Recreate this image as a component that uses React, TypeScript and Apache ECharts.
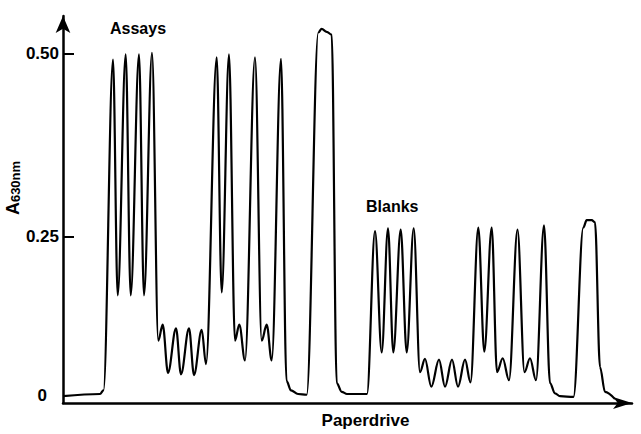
import React, { useEffect, useRef } from 'react';
import * as echarts from 'echarts';

// Paper-drive position (arbitrary chart units) and recorded absorbance at 630 nm
const drive = [
  0, 37, 40.5, 50, 54.7, 62.7, 67.7, 76, 81, 89,
  95.3, 99.7, 105, 113, 118, 126, 131, 138.7, 143,
  153.7, 158.7, 166, 172, 176.3, 182, 192, 198.7, 203.7, 208.7, 218,
  223.5, 228, 235, 243.7, 255.3, 258.7, 263.7, 268.7, 273.7, 278.7, 284, 304,
  312, 318.7, 325, 330.3, 337.7, 343.7, 350.7,
  357, 362, 368.3, 376, 382, 389, 395, 402, 407.5,
  415.3, 421.3, 428.7, 434, 439.7, 446, 454.5, 461.5, 467, 473, 481,
  487, 492, 497, 510.5, 520.3, 523.7, 528.7, 532, 537, 542, 552,
];
const absorbance = [
  0.031, 0.034, 0.039, 0.492, 0.169, 0.499, 0.169, 0.499, 0.169, 0.501,
  0.107, 0.129, 0.063, 0.124, 0.061, 0.124, 0.060, 0.122, 0.075,
  0.495, 0.173, 0.499, 0.107, 0.129, 0.080, 0.495, 0.107, 0.129, 0.080, 0.493,
  0.052, 0.039, 0.034, 0.033, 0.529, 0.534, 0.530, 0.526, 0.049, 0.037, 0.034, 0.034,
  0.257, 0.091, 0.261, 0.091, 0.259, 0.091, 0.261,
  0.064, 0.082, 0.044, 0.081, 0.044, 0.081, 0.044, 0.081, 0.050,
  0.262, 0.092, 0.262, 0.064, 0.083, 0.053, 0.259, 0.064, 0.083, 0.053, 0.265,
  0.049, 0.035, 0.031, 0.030, 0.262, 0.272, 0.272, 0.269, 0.071, 0.037, 0.027,
];

const yTickValues = [0.25, 0.5];
const yLabelValues = [0.0313, 0.25, 0.5];
const yLabelTexts = ['0', '0.25', '0.50'];

const annotations = ['Assays', 'Blanks'];

const FONT = '"Liberation Sans", Arial, sans-serif';

export default function App() {
  const ref = useRef<HTMLDivElement>(null);

  useEffect(() => {
    if (!ref.current) return;
    const chart = echarts.init(ref.current, null, { renderer: 'svg' });
    const data = drive.map((x, i) => [x, absorbance[i]]);

    chart.setOption({
      animation: false,
      backgroundColor: '#fff',
      grid: { left: 63, right: 9, top: 16, bottom: 28 },
      xAxis: {
        type: 'value',
        min: 0,
        max: 569,
        name: 'Paperdrive',
        nameLocation: 'middle',
        nameGap: 9,
        nameTextStyle: {
          fontFamily: FONT,
          fontWeight: 'bold',
          fontSize: 17,
          color: '#000',
          padding: [0, 0, 0, 36],
          verticalAlign: 'top',
        },
        axisLine: {
          show: true,
          symbol: ['none', 'arrow'],
          symbolSize: [9, 19],
          lineStyle: { color: '#000', width: 2.5 },
        },
        axisTick: { show: false },
        axisLabel: { show: false },
        splitLine: { show: false },
      },
      yAxis: {
        type: 'value',
        min: 0.0217,
        max: 0.5516,
        axisLine: {
          show: true,
          symbol: ['none', 'arrow'],
          symbolSize: [11, 17],
          lineStyle: { color: '#000', width: 2.5 },
        },
        axisTick: {
          show: true,
          inside: true,
          length: 11,
          customValues: yTickValues,
          lineStyle: { color: '#000', width: 2 },
        },
        axisLabel: {
          show: true,
          customValues: yLabelValues,
          margin: 4,
          fontFamily: FONT,
          fontWeight: 'bold',
          fontSize: 17,
          color: '#000',
          formatter: (v: number) => {
            let best = 0;
            for (let i = 0; i < yLabelValues.length; i++) {
              if (Math.abs(yLabelValues[i] - v) < Math.abs(yLabelValues[best] - v)) best = i;
            }
            return best === 0 ? '{z|' + yLabelTexts[0] + '}' : yLabelTexts[best];
          },
          rich: {
            z: {
              fontFamily: FONT,
              fontWeight: 'bold',
              fontSize: 17,
              color: '#000',
              padding: [0, 12, 0, 0],
            },
          },
        },
        splitLine: { show: false },
      },
      graphic: [
        {
          type: 'text',
          left: 110,
          top: 20,
          style: {
            text: annotations[0],
            fontFamily: FONT,
            fontWeight: 'bold',
            fontSize: 16,
            fill: '#000',
          },
        },
        {
          type: 'text',
          left: 366,
          top: 198,
          style: {
            text: annotations[1],
            fontFamily: FONT,
            fontWeight: 'bold',
            fontSize: 16,
            fill: '#000',
          },
        },
        {
          type: 'text',
          x: 13,
          y: 188,
          rotation: Math.PI / 2,
          style: {
            text: '{a|A}{b|630nm}',
            align: 'center',
            verticalAlign: 'middle',
            rich: {
              a: { fontFamily: FONT, fontWeight: 'bold', fontSize: 18, fill: '#000', lineHeight: 18 },
              b: {
                fontFamily: FONT,
                fontWeight: 'bold',
                fontSize: 13,
                fill: '#000',
                lineHeight: 13,
                verticalAlign: 'bottom',
              },
            },
          },
        },
      ],
      series: [
        {
          type: 'line',
          data,
          showSymbol: false,
          smooth: 0.35,
          smoothMonotone: 'x',
          lineStyle: { color: '#000', width: 2.2 },
          clip: false,
        },
      ],
    });

    return () => chart.dispose();
  }, []);

  return (
    <div
      ref={ref}
      style={{ position: 'fixed', left: 0, top: 0, width: 641, height: 434, background: '#fff' }}
    />
  );
}
